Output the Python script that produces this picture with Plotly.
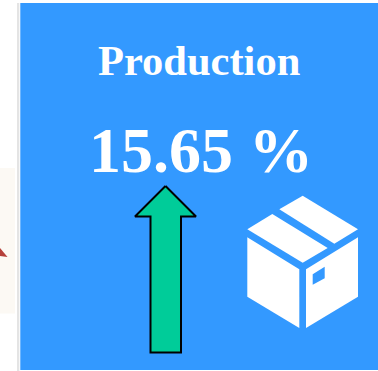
import plotly.graph_objects as go

title = "Production"
change_pct = 15.65
value_label = f"{change_pct:.2f} %"

BLUE = "#3399FF"
GREEN = "#00CC99"

# Up arrow outline
arrow_x = [165.5, 196, 181, 181, 150.5, 150.5, 135, 165.5]
arrow_y = [186, 216.5, 216.5, 352.5, 352.5, 216.5, 216.5, 186]

# Parcel icon faces
box_faces = [
    [(302.7, 195.7), (358, 229.3), (334.3, 243.7), (279.3, 209.3)],
    [(272.3, 214), (327.7, 248), (302.7, 262.7), (247.3, 229.3)],
    [(247.3, 237.3), (299.3, 269.3), (299.3, 328), (247.3, 296.7)],
    [(358, 237.3), (358, 296.7), (306, 328), (306, 269.3)],
]
box_label = [(312.7, 274.3), (324.7, 266.7), (324.7, 278.3), (312.7, 284.7)]


def poly(points, colour):
    path = "M" + " L".join(f"{x},{y}" for x, y in points) + " Z"
    return dict(type="path", path=path, fillcolor=colour, line_width=0, layer="below")


shapes = [
    # Neighbouring panel edge and divider
    dict(type="rect", x0=0, x1=15, y0=168, y1=313.5, fillcolor="#FCF9F4", line_width=0, layer="below"),
    poly([(0, 248), (7.5, 257), (0, 256)], "#B5403A"),
    dict(type="rect", x0=17, x1=19.3, y0=3, y1=371, fillcolor="#E4E4E4", line_width=0, layer="below"),
    # Card background
    dict(type="rect", x0=20.3, x1=378, y0=3, y1=370, fillcolor=BLUE, line_width=0, layer="below"),
]
shapes += [poly(face, "white") for face in box_faces]
shapes.append(poly(box_label, BLUE))

fig = go.Figure(
    go.Scatter(
        x=arrow_x,
        y=arrow_y,
        mode="lines",
        fill="toself",
        fillcolor=GREEN,
        line=dict(color="black", width=2),
        hoverinfo="skip",
    )
)

font_family = "Liberation Serif"
fig.update_layout(
    width=378,
    height=371,
    margin=dict(l=0, r=0, t=0, b=0),
    paper_bgcolor="white",
    plot_bgcolor="white",
    showlegend=False,
    xaxis=dict(range=[0, 378], visible=False, fixedrange=True),
    yaxis=dict(range=[371, 0], visible=False, fixedrange=True),
    shapes=shapes,
    annotations=[
        dict(x=199, y=60, text=f"<b>{title}</b>", showarrow=False, xanchor="center", yanchor="middle",
             font=dict(family=font_family, size=42.5, color="white")),
        dict(x=201, y=150, text=f"<b>{value_label}</b>", showarrow=False, xanchor="center", yanchor="middle",
             font=dict(family=font_family, size=64, color="white")),
    ],
)

fig.write_html("out.html", config=dict(displayModeBar=False))
